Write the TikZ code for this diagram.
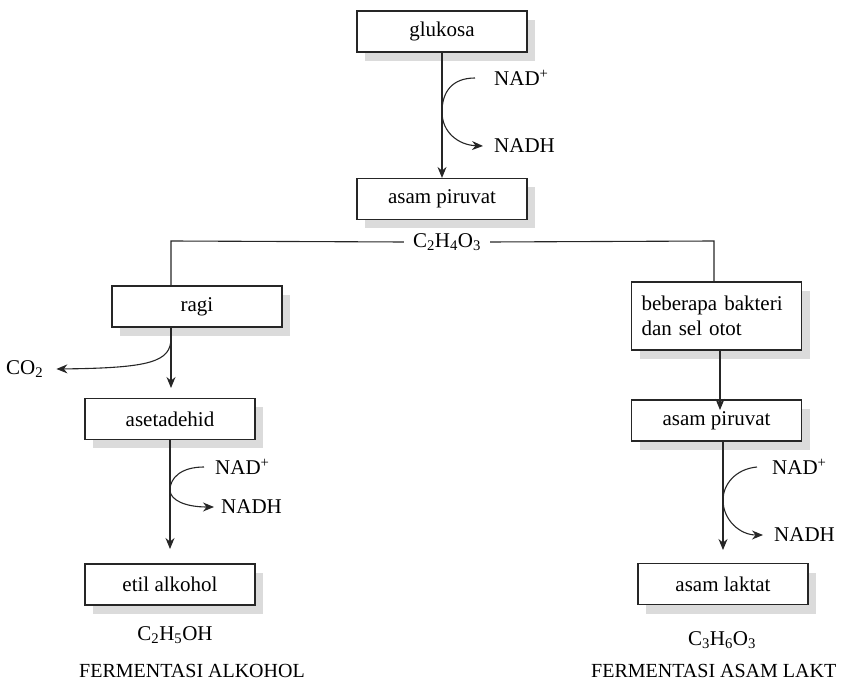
\documentclass[tikz,border=0pt]{standalone}
\usepackage{fontspec}
\setmainfont{Liberation Serif}
\usetikzlibrary{arrows.meta,calc}
\tikzset{
  box/.style={draw=black!85,line width=1.1pt,fill=white,minimum width=170pt,minimum height=41pt,inner sep=0pt,font=\fontsize{21}{23}\selectfont,align=left},
  shadowed/.style={preaction={fill=black!14,draw=none,transform canvas={shift={(8pt,-9pt)}}}},
  lbl/.style={font=\fontsize{21}{23}\selectfont,inner sep=1pt},
  titlelbl/.style={font=\fontsize{20}{22}\selectfont,inner sep=1pt},
  flow/.style={line width=1.1pt,draw=black!85,-{Stealth[length=11pt,width=9pt]}},
  plain/.style={line width=1.1pt,draw=black!85},
}
\begin{document}
\begin{tikzpicture}[x=1pt,y=-1pt]
\useasboundingbox (0,0) rectangle (841,684);
% boxes
\node[box,shadowed] (glu) at (442,31.5) {glukosa};
\node[box,shadowed] (pir) at (442,199) {asam piruvat};
\node[box,shadowed] (ragi) at (197,306.5) {ragi};
\node[box,shadowed] (ase) at (170,419) {asetadehid};
\node[box,shadowed] (etil) at (170,584.5) {etil alkohol};
\node[box,shadowed,minimum height=68pt,text width=150pt,font=\fontsize{21}{25}\selectfont] (bak) at (716.5,316) {beberapa bakteri\\dan sel otot};
\node[box,shadowed] (pir2) at (716.5,420.5) {asam piruvat};
\node[box,shadowed] (lak) at (723,584) {asam laktat};
% labels
\node[lbl,anchor=west] (nadp1) at (493,78) {NAD\textsuperscript{+}};
\node[lbl,anchor=west] (nadh1) at (493,146) {NADH};
\node[lbl] (c2h4o3) at (447,242) {C\textsubscript{2}H\textsubscript{4}O\textsubscript{3}};
\node[lbl,anchor=west] (co2) at (5,369) {CO\textsubscript{2}};
\node[lbl,anchor=west] (nadp2) at (214,467) {NAD\textsuperscript{+}};
\node[lbl,anchor=west] (nadh2) at (220,507) {NADH};
\node[lbl,anchor=west] (nadp3) at (771,467) {NAD\textsuperscript{+}};
\node[lbl,anchor=west] (nadh3) at (773,535) {NADH};
\node[lbl] (c2h5oh) at (175,635) {C\textsubscript{2}H\textsubscript{5}OH};
\node[lbl] (c3h6o3) at (722,640) {C\textsubscript{3}H\textsubscript{6}O\textsubscript{3}};
\node[titlelbl,anchor=west] (fa) at (78,671) {FERMENTASI ALKOHOL};
\node[titlelbl,anchor=west] (fl) at (590,671) {FERMENTASI ASAM LAKT};
% connectors top
\draw[flow] (glu.south) -- (pir.north);
\draw[flow] ($(nadp1.west)+(-18,0)$) .. controls (452,78) and (442,92) .. (442,112)
  .. controls (442,132) and (458,145) .. ($(nadh1.west)+(-10,0)$);
% branch
\coordinate (lcorner) at (171,241);
\coordinate (rcorner) at (714,241);
\draw[plain] ($(c2h4o3.west)+(-8,0)$) -- (lcorner) -- (lcorner |- ragi.north);
\draw[plain] ($(c2h4o3.east)+(8,0)$) -- (rcorner) -- (rcorner |- bak.north);
% left chain
\coordinate (rb) at (171,326.5);
\draw[flow] (rb) -- (171,388);
\draw[flow] (171,338) .. controls (171,362) and (150,368) .. ($(co2.east)+(12,0)$);
\draw[flow] (ase.south) -- (170,549);
\draw[flow] ($(nadp2.west)+(-10,0)$) .. controls (181,467) and (170,478) .. (170,490)
  .. controls (170,500) and (185,507) .. ($(nadh2.west)+(-6,0)$);
% right chain
\draw[flow] (720,350) -- (720,410);
\draw[flow] (723,440.5) -- (723,550);
\draw[flow] ($(nadp3.west)+(-14,0)$) .. controls (735,469) and (723,485) .. (723,500)
  .. controls (723,520) and (740,535) .. ($(nadh3.west)+(-10,0)$);
\end{tikzpicture}
\end{document}
